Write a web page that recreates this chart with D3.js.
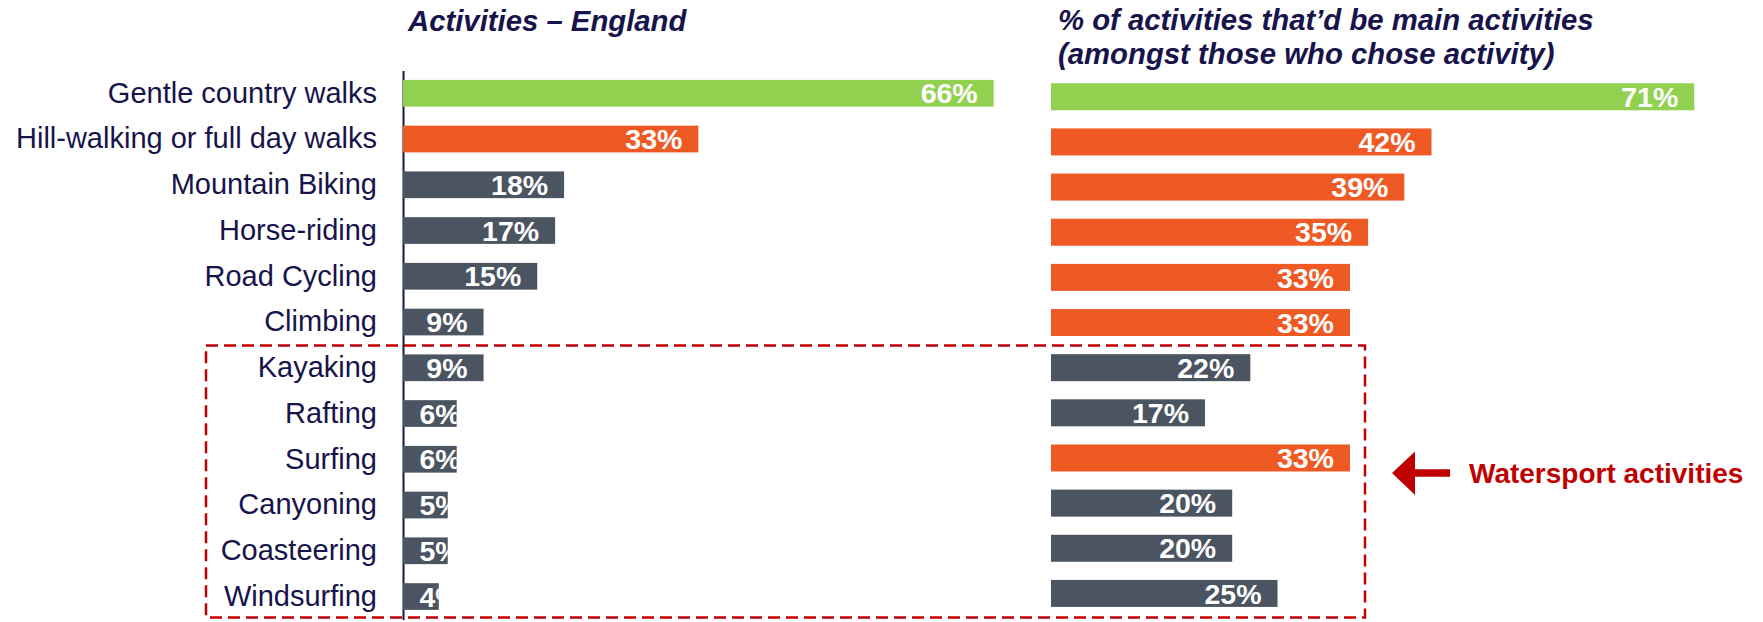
<!DOCTYPE html>
<html>
<head>
<meta charset="utf-8">
<script src="https://cdn.jsdelivr.net/npm/d3@7"></script>
<style>
  body { margin: 0; background: #fff; }
  svg text { font-family: "Liberation Sans", Arial, sans-serif; }
</style>
</head>
<body>
<div id="chart"></div>
<script>
// data
var activities = ["Gentle country walks", "Hill-walking or full day walks", "Mountain Biking",
  "Horse-riding", "Road Cycling", "Climbing", "Kayaking", "Rafting", "Surfing",
  "Canyoning", "Coasteering", "Windsurfing"];
var englandPct = [66, 33, 18, 17, 15, 9, 9, 6, 6, 5, 5, 4];
var mainPct = [71, 42, 39, 35, 33, 33, 22, 17, 33, 20, 20, 25];
var waterSports = ["Kayaking", "Rafting", "Surfing", "Canyoning", "Coasteering", "Windsurfing"];

var leftTitle = "Activities \u2013 England";
var rightTitle = ["% of activities that\u2019d be main activities", "(amongst those who chose activity)"];
var calloutText = "Watersport activities";

var width = 1763, height = 622;
var navy = "#16144a", red = "#c00000";
var green = "#92d050", orange = "#ef5a24", grey = "#4b5461";

var svg = d3.select("#chart")
  .append("svg")
    .attr("width", width)
    .attr("height", height);

// colour rule: biggest bar green, 33%+ orange, rest grey
function barColour(vals) {
  var mx = d3.max(vals);
  return function(v) { return v === mx ? green : (v >= 33 ? orange : grey); };
}

// scales
var yL = d3.scaleBand().domain(activities).range([70.4, 619.4])
  .paddingInner(0.416).paddingOuter(0.208);
var yR = d3.scaleBand().domain(activities).range([74.2, 616])
  .paddingInner(0.402).paddingOuter(0.201);
var xL = d3.scaleLinear().domain([0, 100]).range([403, 403 + 895]);
var xR = d3.scaleLinear().domain([0, 100]).range([1051, 1051 + 906]);

// left axis with the category labels
var yAxis = svg.append("g")
  .attr("transform", "translate(" + xL(0) + ",0)")
  .call(d3.axisLeft(yL).tickSize(0).tickPadding(26));
yAxis.select(".domain").attr("stroke", navy).attr("stroke-width", 2);
yAxis.selectAll("text")
  .attr("fill", navy)
  .style("font-size", "29px");

function drawPanel(name, vals, x, y) {
  var col = barColour(vals);
  var rows = activities.map(function(a, i) { return {name: a, v: vals[i], i: i}; });

  var g = svg.append("g").attr("class", name);

  // labels that don't fit get cut at the bar end
  g.selectAll("clipPath")
    .data(rows)
    .enter()
    .append("clipPath")
      .attr("id", function(d) { return name + "-clip-" + d.i; })
    .append("rect")
      .attr("x", x(0))
      .attr("y", function(d) { return y(d.name); })
      .attr("width", function(d) { return x(d.v) - x(0); })
      .attr("height", y.bandwidth());

  g.selectAll("rect.bar")
    .data(rows)
    .enter()
    .append("rect")
      .attr("class", "bar")
      .attr("x", x(0))
      .attr("y", function(d) { return y(d.name); })
      .attr("width", function(d) { return x(d.v) - x(0); })
      .attr("height", y.bandwidth())
      .attr("fill", function(d) { return col(d.v); });

  g.selectAll("text.val")
    .data(rows)
    .enter()
    .append("text")
      .attr("class", "val")
      .attr("clip-path", function(d) { return "url(#" + name + "-clip-" + d.i + ")"; })
      .attr("y", function(d) { return y(d.name) + y.bandwidth() / 2 + 10.2; })
      .attr("fill", "#fff")
      .style("font-size", "28.5px")
      .style("font-weight", "bold")
      .text(function(d) { return d.v + "%"; })
      .each(function(d) {
        var w = this.getComputedTextLength();
        d3.select(this).attr("x", Math.max(x(d.v) - 16 - w, x(0) + 16.5));
      });
}

drawPanel("left", englandPct, xL, yL);
drawPanel("right", mainPct, xR, yR);

// titles
svg.append("text")
  .attr("x", 408).attr("y", 30.5)
  .attr("fill", navy)
  .style("font-size", "29.3px")
  .style("font-weight", "bold")
  .style("font-style", "italic")
  .text(leftTitle);

svg.append("g").selectAll("text")
  .data(rightTitle)
  .enter()
  .append("text")
    .attr("x", 1058)
    .attr("y", function(d, i) { return 29.5 + i * 34; })
    .attr("fill", navy)
    .style("font-size", "29.3px")
    .style("font-weight", "bold")
    .style("font-style", "italic")
    .text(function(d) { return d; });

// dashed box round the watersports
var boxTop = yL(waterSports[0]) - 9;
var boxBottom = yL(waterSports[waterSports.length - 1]) + yL.bandwidth() + 7.5;
svg.append("rect")
  .attr("x", 206).attr("y", boxTop)
  .attr("width", 1365 - 206).attr("height", boxBottom - boxTop)
  .attr("fill", "none")
  .attr("stroke", red)
  .attr("stroke-width", 2.5)
  .attr("stroke-dasharray", "12,6");

// arrow + callout
var ay = 473;
svg.append("path")
  .attr("d", "M1392," + ay + " L1415," + (ay - 21.5) + " L1415," + (ay - 3.7) +
    " L1450," + (ay - 3.7) + " L1450," + (ay + 3.7) + " L1415," + (ay + 3.7) +
    " L1415," + (ay + 22) + " Z")
  .attr("fill", red);

svg.append("text")
  .attr("x", 1469).attr("y", 483)
  .attr("fill", red)
  .style("font-size", "28px")
  .style("font-weight", "bold")
  .text(calloutText);
</script>
</body>
</html>
